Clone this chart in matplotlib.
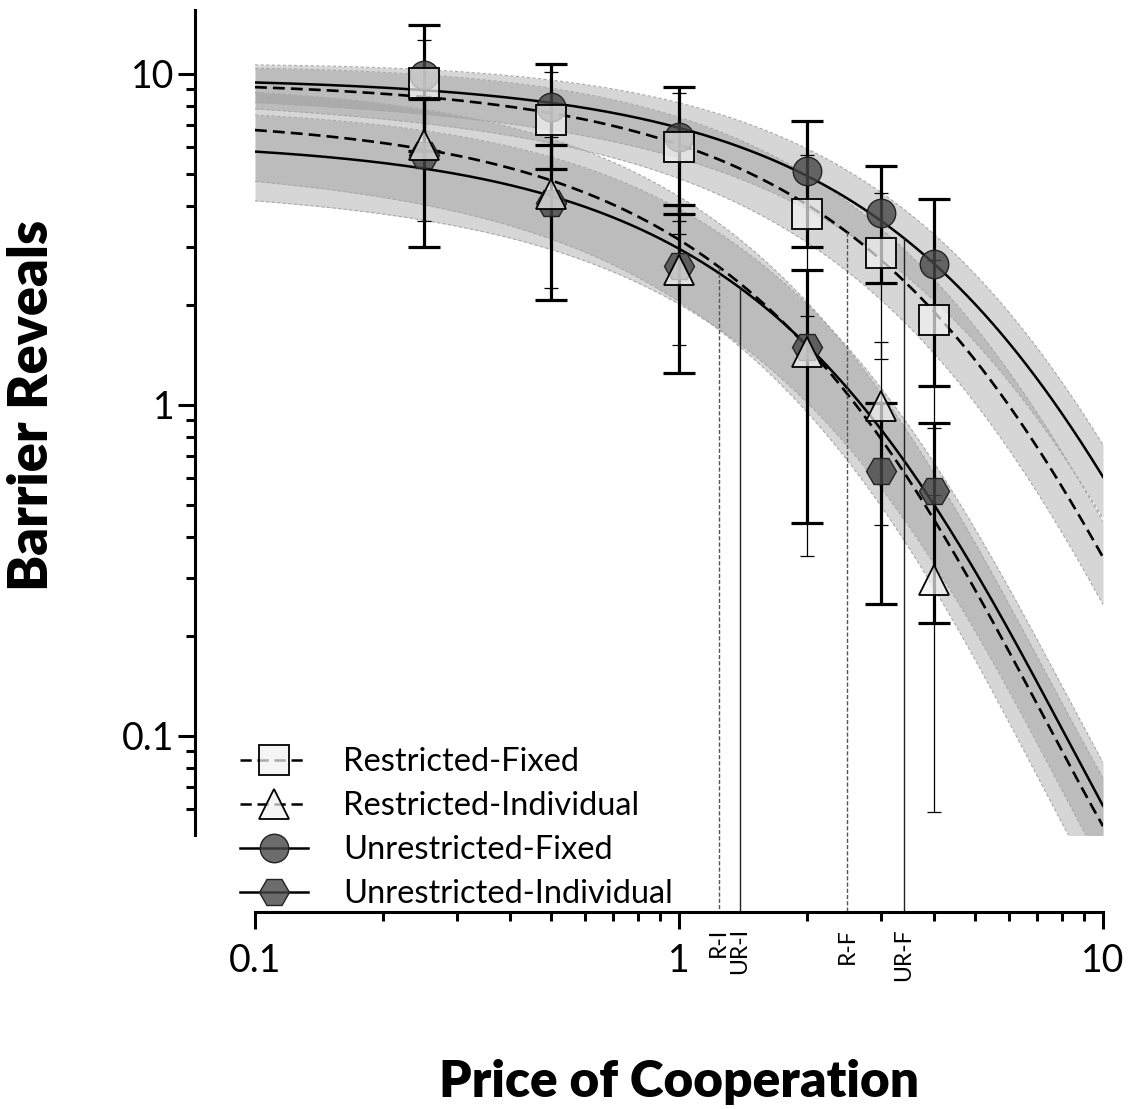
import numpy as np
import matplotlib
matplotlib.use("Agg")
import matplotlib.pyplot as plt
from matplotlib.lines import Line2D
from matplotlib.ticker import FixedLocator, FixedFormatter, LogLocator, NullFormatter
from matplotlib.transforms import blended_transform_factory

plt.rcParams['font.family'] = ['Lato', 'DejaVu Sans']

# ---------------- data ----------------
prices = [0.25, 0.5, 1, 2, 3, 4]

labels = ["Restricted-Fixed", "Restricted-Individual",
          "Unrestricted-Fixed", "Unrestricted-Individual"]

rf_mean = [9.4, 7.26, 6.03, 3.78, 2.88, 1.80]
rf_err = [3.3, 2.88, 2.74, 1.92, 1.50, 0.95]

ri_mean = [6.1, 4.35, 2.56, 1.45, 0.99, 0.296]
ri_err = [2.5, 2.1, 1.04, 1.10, 0.555, 0.237]

uf_mean = [9.95, 7.95, 6.45, 5.09, 3.80, 2.67]
uf_err = [4.1, 2.78, 2.68, 2.1, 1.47, 1.53]

ui_mean = [5.7, 4.08, 2.63, 1.50, 0.63, 0.55]
ui_err = [2.7, 2.0, 1.38, 1.06, 0.38, 0.33]

# exponential demand fits: log10 Q = log10 Q0 + k (exp(-alpha Q0 C) - 1)
k_shared = 2.85
fit_q0 = [9.55, 7.41, 9.77, 6.31]
fit_alpha = [0.00737, 0.0188, 0.00564, 0.01938]
# relative half-width of the confidence band at price 0.1 and at price 10
band_rel_lo = [0.14, 0.30, 0.13, 0.29]
band_rel_hi = [0.28, 0.40, 0.25, 0.35]

pmax_labels = ["R-I", "UR-I", "R-F", "UR-F"]
pmax_values = [1.24, 1.39, 2.49, 3.39]
pmax_series = [1, 3, 0, 2]

means = [rf_mean, ri_mean, uf_mean, ui_mean]
errs = [rf_err, ri_err, uf_err, ui_err]


def demand(c, q0, alpha, k=k_shared):
    return q0 * 10 ** (k * (np.exp(-alpha * q0 * c) - 1))


# ---------------- figure ----------------
W, H = 1128, 1109
fig = plt.figure(figsize=(W / 100, H / 100), dpi=100)
ax = fig.add_axes([255 / W, 1 - 835 / H, 848 / W, 825 / H])
ax.set_xscale('log')
ax.set_yscale('log')
ax.set_xlim(0.1, 10)
ymin, ymax = 0.0502, 15.6
ax.set_ylim(ymin, ymax)

for s in ['top', 'right']:
    ax.spines[s].set_visible(False)
ax.spines['left'].set_position(('outward', 43.2))
ax.spines['bottom'].set_position(('outward', 55.4))
for s in ['left', 'bottom']:
    ax.spines[s].set_linewidth(2.2)

ax.xaxis.set_major_locator(FixedLocator([0.1, 1, 10]))
ax.xaxis.set_major_formatter(FixedFormatter(['0.1', '1', '10']))
ax.xaxis.set_minor_locator(LogLocator(base=10, subs=np.arange(2, 10)))
ax.xaxis.set_minor_formatter(NullFormatter())
ax.yaxis.set_major_locator(FixedLocator([0.1, 1, 10]))
ax.yaxis.set_major_formatter(FixedFormatter(['0.1', '1', '10']))
ax.yaxis.set_minor_locator(LogLocator(base=10, subs=np.arange(2, 10)))
ax.yaxis.set_minor_formatter(NullFormatter())

ax.tick_params(axis='both', which='major', length=12, width=2.2, labelsize=27)
ax.tick_params(axis='both', which='minor', length=6.5, width=2.2)
ax.tick_params(axis='x', which='major', pad=10)
ax.tick_params(axis='y', which='major', pad=3)

# ---------------- fitted curves and bands ----------------
cgrid = np.logspace(-1, 1, 500)
frac = (np.log10(cgrid) + 1) / 2
line_styles = ['--', '--', '-', '-']
for i in range(4):
    q = demand(cgrid, fit_q0[i], fit_alpha[i])
    rel = band_rel_lo[i] + (band_rel_hi[i] - band_rel_lo[i]) * frac
    lo, hi = q * (1 - rel), q * (1 + rel)
    ax.fill_between(cgrid, lo, hi, color=(0.55, 0.55, 0.55), alpha=0.35,
                    lw=0, zorder=1)
    for edge in (lo, hi):
        ax.plot(cgrid, edge, color='#a8a8a8', lw=0.8, ls=(0, (3, 2)), zorder=1.5)
    if line_styles[i] == '--':
        ax.plot(cgrid, q, color='black', lw=1.9, ls=(0, (4.5, 2.3)), zorder=2)
    else:
        ax.plot(cgrid, q, color='black', lw=1.8, zorder=2)

# ---------------- Pmax markers ----------------
spine_y = -77 / 825
btrans = blended_transform_factory(ax.transData, ax.transAxes)
lmin, lmax = np.log10(ymin), np.log10(ymax)
for lab, pv, si in zip(pmax_labels, pmax_values, pmax_series):
    qv = demand(pv, fit_q0[si], fit_alpha[si])
    ytop = (np.log10(qv) - lmin) / (lmax - lmin)
    if lab.startswith('R-'):
        ax.plot([pv, pv], [ytop, spine_y], transform=btrans, color='#555555',
                lw=1.0, ls=(0, (3, 1.5)), clip_on=False, zorder=2.5)
    else:
        ax.plot([pv, pv], [ytop, spine_y], transform=btrans, color='#222222',
                lw=1.0, clip_on=False, zorder=2.5)
    ax.text(pv, spine_y - 16 / 825, lab, transform=btrans, rotation=90,
            ha='center', va='top', fontsize=16.5, clip_on=False)

# ---------------- error bars ----------------
for i in range(4):
    thick = i >= 2
    ax.errorbar(prices, means[i], yerr=errs[i], fmt='none', ecolor='black',
                elinewidth=2.3 if thick else 0.9,
                capsize=11.5 if thick else 4.8,
                capthick=2.3 if thick else 0.9,
                zorder=3.2 if thick else 3.0)

# ---------------- markers ----------------
light_fill = (0.95, 0.95, 0.95, 0.7)
dark_fill = (0.28, 0.28, 0.28, 0.8)
marker_style = [
    dict(marker='s', ms=21.6, mfc=light_fill, mec='black', mew=1.3),
    dict(marker='^', ms=21.6, mfc=light_fill, mec='black', mew=1.3),
    dict(marker='o', ms=20.5, mfc=dark_fill, mec='#222222', mew=1.0),
    dict(marker='H', ms=21.6, mfc=dark_fill, mec='#222222', mew=1.0),
]
order = [2, 3, 0, 1]
for i in order:
    ax.plot(prices, means[i], ls='none', zorder=4 + order.index(i) * 0.1,
            **marker_style[i])

# ---------------- legend ----------------
handles = []
for i in range(4):
    handles.append(Line2D([], [], color='black', lw=1.8,
                          ls=(0, (4.5, 2.3)) if line_styles[i] == '--' else '-',
                          **marker_style[i]))
leg = ax.legend(handles, labels, loc='upper left',
                bbox_to_anchor=(240 / W, 1 - 747 / H),
                bbox_transform=fig.transFigure, frameon=False, fontsize=23.5,
                handlelength=2.09, handletextpad=1.07, labelspacing=0.43,
                borderpad=0, borderaxespad=0)
leg.set_zorder(6)

# ---------------- axis titles ----------------
fig.text(32 / W, 1 - 405 / H, "Barrier Reveals", rotation=90, ha='center',
         va='center', fontsize=39, fontweight='heavy')
fig.text(679 / W, 1 - 1082 / H, "Price of Cooperation", ha='center',
         va='center', fontsize=37, fontweight='heavy')

fig.savefig('out.png', dpi=100)
